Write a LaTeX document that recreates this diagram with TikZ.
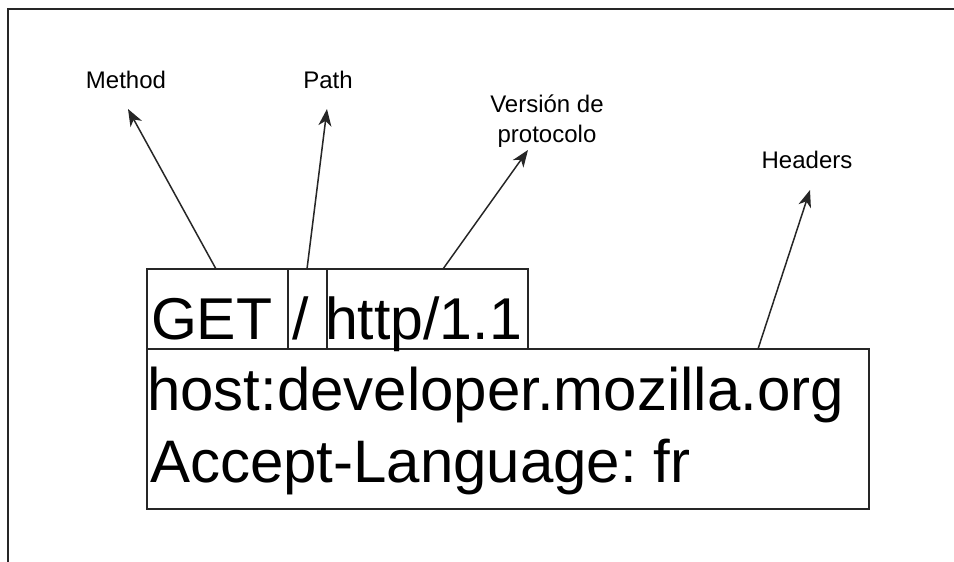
\documentclass[tikz,border=0pt]{standalone}
\usepackage{fontspec}
\setmainfont{Liberation Sans}
\usetikzlibrary{arrows.meta}
\frenchspacing
\begin{document}
\begin{tikzpicture}[x=1pt,y=-1pt,
  box/.style={draw=black!85, line width=1.3pt, inner sep=0pt, outer sep=0pt},
  big/.style={font=\fontsize{59}{71}\selectfont, inner sep=0pt, outer sep=0pt, anchor=base west},
  lbl/.style={font=\fontsize{24}{30}\selectfont, inner sep=0pt, align=center, anchor=base},
  arr/.style={draw=black!85, line width=1.5pt, -{Stealth[length=17pt,width=13pt,inset=5pt]}},
  frame/.style={draw=black!85, line width=2pt}]
\useasboundingbox (0,0) rectangle (954,562);
% outer frame (partly cut off)
\coordinate (fbl) at (7.5,562);
\coordinate (ftl) at (7.5,8.5);
\coordinate (ftr) at (954,8.5);
\draw[frame] (fbl) -- (ftl) -- (ftr);
% boxes
\node[box, minimum width=141pt, minimum height=80pt] (getbox) at (217.5,309) {};
\node[box, minimum width=39pt, minimum height=80pt] (slashbox) at (307.5,309) {};
\node[box, minimum width=201pt, minimum height=80pt] (httpbox) at (427.5,309) {};
\node[box, minimum width=722pt, minimum height=160pt] (hdrbox) at (508,429) {};
% box texts
\node[big] (gett) at (151,339) {GET};
\node[big] (slasht) at (292,339) {/};
\node[big] (httpt) at (325,339) {http/1.1};
\node[big, font=\fontsize{60}{72}\selectfont] (hostt) at (147,410) {host:developer.mozilla.org};
\node[big, font=\fontsize{60}{72}\selectfont] (acct) at (150,482) {Accept-Language: fr};
% labels
\node[lbl] (method) at (126,88) {Method};
\node[lbl] (path) at (328,88) {Path};
\node[lbl] (version) at (547,142) {Versión de\\protocolo};
\node[lbl] (headers) at (807,168) {Headers};
% connector ends
\coordinate (ms) at (216,269);
\coordinate (mt) at (128,109);
\coordinate (ps) at (307,269);
\coordinate (pt) at (327,109);
\coordinate (vs) at (443,269);
\coordinate (vt) at (528,150);
\coordinate (hs) at (758,349);
\coordinate (ht) at (810,190);
\draw[arr] (ms) -- (mt);
\draw[arr] (ps) -- (pt);
\draw[arr] (vs) -- (vt);
\draw[arr] (hs) -- (ht);
\end{tikzpicture}
\end{document}
